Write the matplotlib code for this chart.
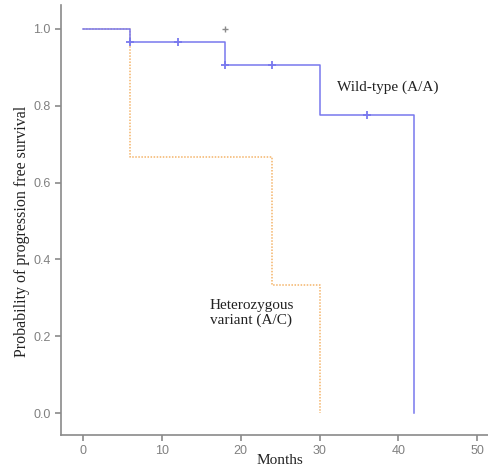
import numpy as np
import matplotlib.pyplot as plt

# Kaplan-Meier steps (months, survival)
wt_times = [0, 6, 18, 30, 42]
wt_surv = [1.0, 0.967, 0.905, 0.775, 0.0]
wt_cens_t = [6, 12, 18, 24, 36]
wt_cens_s = [0.967, 0.967, 0.905, 0.905, 0.775]

het_times = [0, 6, 24, 30]
het_surv = [1.0, 0.667, 0.333, 0.0]

extra_cens_t = [18]
extra_cens_s = [1.0]

x_ticks = [0, 10, 20, 30, 40, 50]
y_ticks = [0.0, 0.2, 0.4, 0.6, 0.8, 1.0]

blue = '#7878ee'
orange = '#f4b46a'
gray = '#8a8a8a'

fig = plt.figure(figsize=(4.89, 4.69), dpi=100)
ax = fig.add_axes([61 / 489, 1 - 435 / 469, 428 / 489, 430 / 469])

ax.step(het_times, het_surv, where='post', color=orange, lw=1.1,
        linestyle=(0, (1, 1)))
ax.step(wt_times, wt_surv, where='post', color=blue, lw=1.1)
ax.plot(wt_cens_t, wt_cens_s, '+', color=blue, ms=6, mew=1.3)
ax.plot(extra_cens_t, extra_cens_s, '+', color=gray, ms=5, mew=1.0)

ax.text(38.7, 0.849, 'Wild-type (A/A)', family='Liberation Serif',
        fontsize=11, ha='center', va='center', color='#222222')
ax.text(16.1, 0.26, 'Heterozygous\nvariant (A/C)', family='Liberation Serif',
        fontsize=11, ha='left', va='center', color='#222222', linespacing=1.2)

ax.set_xlim(-2.8, 51.5)
ax.set_ylim(-0.057, 1.062)
ax.set_xticks(x_ticks)
ax.set_yticks(y_ticks)
ax.set_yticklabels([f'{v:.1f}' for v in y_ticks])

for s in ['top', 'right']:
    ax.spines[s].set_visible(False)
for s in ['left', 'bottom']:
    ax.spines[s].set_color(gray)
    ax.spines[s].set_linewidth(1.2)
ax.tick_params(colors=gray, labelcolor='#808080', length=4, width=1.2,
               labelsize=9)
for lab in ax.get_xticklabels() + ax.get_yticklabels():
    lab.set_family('Liberation Sans')

ax.set_xlabel('Months', family='Liberation Serif', fontsize=11,
              color='#222222', labelpad=0)
ax.xaxis.set_label_coords(0.512, -0.044)
ax.set_ylabel('Probability of progression free survival', family='Liberation Serif',
              fontsize=11.5, color='#222222')
ax.yaxis.set_label_coords(-0.073, 0.474)

fig.savefig('out.png', dpi=100)
